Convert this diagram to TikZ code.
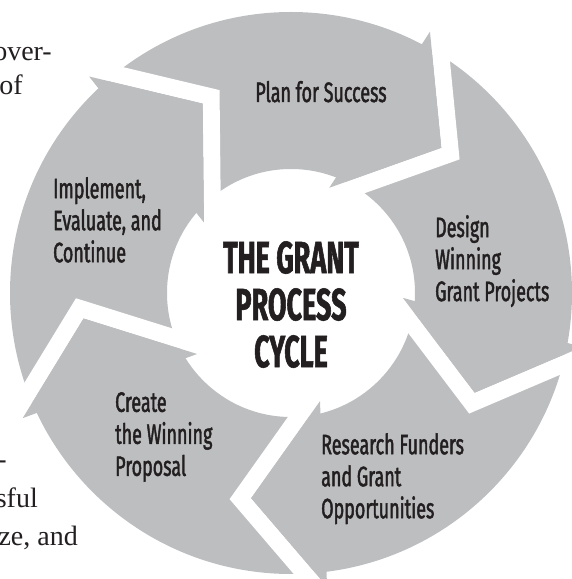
\documentclass[tikz,border=0pt]{standalone}
\usepackage{fontspec}
\usetikzlibrary{calc}
\newfontfamily\labfont[FakeStretch=0.64,FakeBold=1.6]{Fira Sans}
\newfontfamily\titlefont[FakeStretch=0.60,FakeBold=1.2]{Fira Sans}
\newfontfamily\bodyserif{Liberation Serif}
\definecolor{ringgray}{RGB}{188,190,192}
\definecolor{ink}{RGB}{35,31,32}
\tikzset{
  steplabel/.style={font=\labfont\fontsize{28}{32}\selectfont, text=ink, inner sep=0pt, align=left},
  titlelabel/.style={font=\titlefont\bfseries\fontsize{45}{47}\selectfont, text=ink, inner sep=0pt, align=center},
  margintext/.style={font=\bodyserif\fontsize{28}{34}\selectfont, text=ink, inner sep=0pt},
}
\begin{document}
\begin{tikzpicture}[x=1pt,y=1pt]
  \useasboundingbox (0,0) rectangle (571,579);
  \def\gap{17pt}
  \coordinate (ctr) at (291,286);

  % head geometry of the five cycle arrows (tip angle per step)
  \foreach \nm/\ang in {plan/44, design/-28.5, research/-101, create/-173, implement/115} {
    \coordinate (\nm-o) at ($(ctr)+({\ang+18}:296)$);
    \coordinate (\nm-t) at ($(ctr)+(\ang:209)$);
    \coordinate (\nm-i) at ($(ctr)+({\ang+26}:112)$);
    \coordinate (\nm-o2) at ($(\nm-o)!\gap!90:(\nm-t)$);
    \coordinate (\nm-t2) at ($(\nm-t)!\gap!-90:(\nm-o)$);
    \coordinate (\nm-t3) at ($(\nm-t)!\gap!90:(\nm-i)$);
    \coordinate (\nm-i2) at ($(\nm-i)!\gap!-90:(\nm-t)$);
    \coordinate (\nm-n) at (intersection cs: first line={(\nm-o2)--(\nm-t2)}, second line={(\nm-t3)--(\nm-i2)});
  }

  % ring, white gaps in front of each head, then the heads
  \fill[ringgray, even odd rule] (ctr) circle (281) (ctr) circle (124);
  \foreach \nm in {plan, design, research, create, implement}
    \fill[white] (\nm-o) -- (\nm-t) -- (\nm-i) -- (\nm-i2) -- (\nm-n) -- (\nm-o2) -- cycle;
  \foreach \nm in {plan, design, research, create, implement}
    \fill[ringgray] (\nm-o) -- (\nm-t) -- (\nm-i) -- cycle;

  % step labels
  \node[steplabel, anchor=base] (plan) at (321,477) {Plan for Success};
  \node[steplabel, anchor=north west] (design) at (435,364) {Design\\Winning\\Grant Projects};
  \node[steplabel, anchor=north west] (research) at (321,146) {Research Funders\\and Grant\\Opportunities};
  \node[steplabel, anchor=north west] (create) at (115,187) {Create\\the Winning\\Proposal};
  \node[steplabel, anchor=north west] (implement) at (53,402) {Implement,\\Evaluate, and\\Continue};
  \node[titlelabel, anchor=north] (title) at (291,338) {THE GRANT\\PROCESS\\CYCLE};

  % running text of the page at the left margin
  \node[margintext, anchor=base east] (m1) at (52,518) {over-};
  \node[margintext, anchor=base east] (m2) at (23,484) {of};
  \node[margintext, anchor=base east] (m3) at (7,110) {-};
  \node[margintext, anchor=base east] (m4) at (38,71) {sful};
  \node[margintext, anchor=base east] (m5) at (78,34) {ze, and};
\end{tikzpicture}
\end{document}
